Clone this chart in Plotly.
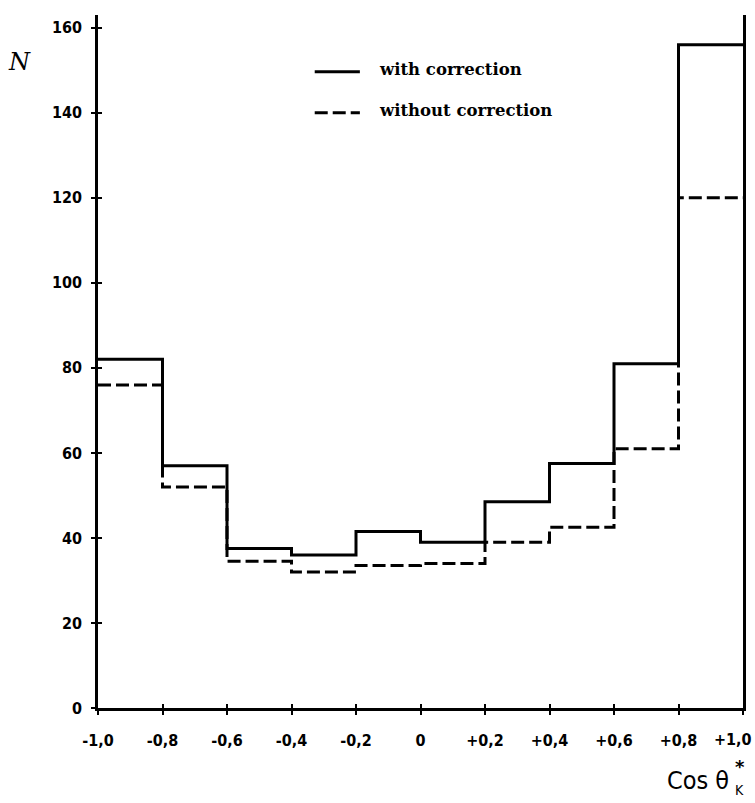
import plotly.graph_objects as go

# Bin edges in cos(theta*_K) and event counts per bin
bin_edges = [-1.0, -0.8, -0.6, -0.4, -0.2, 0.0, 0.2, 0.4, 0.6, 0.8, 1.0]
with_correction = [82, 57, 37.5, 36, 41.5, 39, 48.5, 57.5, 81, 156]
without_correction = [76, 52, 34.5, 32, 33.5, 34, 39, 42.5, 61, 120]
series_names = ["with correction", "without correction"]

x_tick_vals = [-1.0, -0.8, -0.6, -0.4, -0.2, 0.0, 0.2, 0.4, 0.6, 0.8, 1.0]
x_tick_text = ["-1,0", "-0,8", "-0,6", "-0,4", "-0,2", "0", "+0,2", "+0,4", "+0,6", "+0,8", "+1,0"]
y_tick_vals = [0, 20, 40, 60, 80, 100, 120, 140, 160]

tick_font = dict(family="DejaVu Sans Condensed", size=16, color="black", weight="bold")
legend_font = dict(family="DejaVu Serif", size=16.5, color="black")
solid_line = dict(color="black", width=3)
dashed_line = dict(color="black", width=3, dash="13px,5px")


def step_y(values):
    # repeat the last value so the 'hv' step closes at the right edge
    return list(values) + [values[-1]]


fig = go.Figure()
fig.add_trace(go.Scatter(
    x=bin_edges, y=step_y(with_correction), mode="lines",
    line=dict(shape="hv", **solid_line), name=series_names[0],
))
fig.add_trace(go.Scatter(
    x=bin_edges, y=step_y(without_correction), mode="lines",
    line=dict(shape="hv", **dashed_line), name=series_names[1],
))
# invisible trace carrying the inside half of the cross-shaped ticks
fig.add_trace(go.Scatter(x=[0], y=[0], xaxis="x2", yaxis="y2",
                         mode="markers", marker=dict(opacity=0),
                         showlegend=False, hoverinfo="skip"))

# the last x label sits against the right edge, so it is placed as an
# annotation anchored on its right side instead of centred on the tick
axis_tick_text = x_tick_text[:-1] + [""]

fig.update_layout(
    width=755, height=803,
    margin=dict(l=98, r=12, t=15, b=95, autoexpand=False),
    paper_bgcolor="white", plot_bgcolor="white",
    showlegend=False,
    xaxis=dict(range=[-1.0, 1.0], tickvals=x_tick_vals, ticktext=axis_tick_text,
               showgrid=False, zeroline=False, showline=True, linecolor="black",
               linewidth=2.5, ticks="outside", ticklen=4, tickwidth=2,
               tickcolor="black", tickfont=tick_font, ticklabelstandoff=12,
               automargin=False),
    yaxis=dict(range=[0, 163], tickvals=y_tick_vals, showgrid=False,
               zeroline=False, showline=True, linecolor="black", linewidth=2.5,
               mirror=True, ticks="outside", ticklen=4, tickwidth=2,
               tickcolor="black", tickfont=tick_font, ticklabelstandoff=6,
               automargin=False),
    xaxis2=dict(range=[-1.0, 1.0], overlaying="x", tickvals=x_tick_vals,
                showticklabels=False, ticks="inside", ticklen=4, tickwidth=2,
                tickcolor="black", showgrid=False, zeroline=False),
    yaxis2=dict(range=[0, 163], overlaying="y", tickvals=y_tick_vals,
                showticklabels=False, ticks="inside", ticklen=4, tickwidth=2,
                tickcolor="black", showgrid=False, zeroline=False),
)

fig.add_annotation(x=x_tick_vals[-1], y=-0.046, xref="x", yref="paper",
                   text=x_tick_text[-1], showarrow=False,
                   xanchor="right", yanchor="middle", xshift=11,
                   font=tick_font)

# key: line samples with their labels
key_rows = [(0.918, solid_line), (0.859, dashed_line)]
for (ky, style), label in zip(key_rows, series_names):
    fig.add_shape(type="line", xref="paper", yref="paper",
                  x0=0.336, x1=0.406, y0=ky, y1=ky, line=style)
    fig.add_annotation(x=0.432, y=ky + 0.003, xref="paper", yref="paper",
                       text=f"<b>{label}</b>", showarrow=False,
                       xanchor="left", yanchor="middle", font=legend_font)

# axis titles
fig.add_annotation(x=-0.122, y=0.932, xref="paper", yref="paper",
                   text="<i>N</i>", showarrow=False,
                   xanchor="center", yanchor="middle",
                   font=dict(family="DejaVu Serif", size=24, color="black"))
fig.add_annotation(x=0.982, y=-0.104, xref="paper", yref="paper",
                   text="Cos θ", showarrow=False,
                   xanchor="right", yanchor="middle",
                   font=dict(family="DejaVu Sans Condensed", size=25, color="black"))
fig.add_annotation(x=0.985, y=-0.085, xref="paper", yref="paper",
                   text="<b>*</b>", showarrow=False,
                   xanchor="left", yanchor="middle",
                   font=dict(family="DejaVu Sans", size=18, color="black"))
fig.add_annotation(x=0.985, y=-0.118, xref="paper", yref="paper",
                   text="K", showarrow=False,
                   xanchor="left", yanchor="middle",
                   font=dict(family="DejaVu Sans Condensed", size=14, color="black"))

fig.write_html("out.html")
